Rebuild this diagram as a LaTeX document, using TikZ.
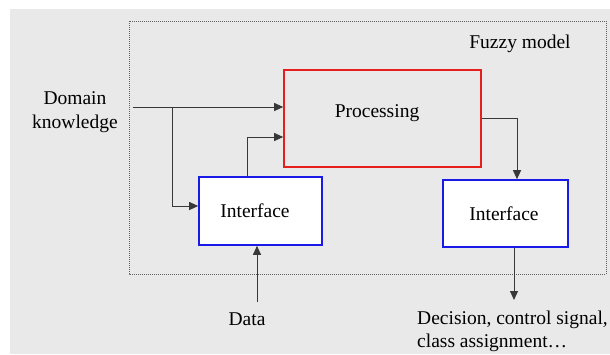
\documentclass[tikz,border=0pt]{standalone}
\usepackage{fontspec}
\setmainfont{Liberation Serif}
\usetikzlibrary{arrows.meta,calc}
\definecolor{bg}{HTML}{E9E9E9}
\definecolor{ln}{HTML}{383838}
\definecolor{bl}{HTML}{1A1AE6}
\definecolor{rd}{HTML}{E61E1E}
\tikzset{
  txt/.style={font=\fontsize{19.5}{23.5}\selectfont, text=black, inner sep=0pt},
  procbox/.style={draw=rd, line width=1.6pt, fill=bg, minimum width=197pt, minimum height=97pt, inner sep=0pt},
  ifbox/.style={draw=bl, line width=1.6pt, fill=white, minimum width=123pt, minimum height=68pt, inner sep=0pt,
    font=\fontsize{19.5}{23.5}\selectfont, text=black},
  conn/.style={draw=ln, line width=1pt, -{Triangle[length=9pt,width=8pt]}},
  plain/.style={draw=ln, line width=1pt}
}
\begin{document}
\begin{tikzpicture}[x=1pt,y=-1pt]
\useasboundingbox (0,0) rectangle (610,354);
\fill[white] (0,0) rectangle (610,354);
\fill[bg] (10,9) rectangle (610,354);
% frame
\draw[ln!80, line width=0.8pt, dash pattern=on 1pt off 1pt] (129,21) rectangle (606,274);
\node[txt] (fm) at (520,44) {Fuzzy model};
% boxes
\node[procbox] (proc) at (382.5,118.5) {};
\node[txt] (proclabel) at (377,113) {Processing};
\node[ifbox] (ifl) at (260.5,211) {\hspace*{-11pt}Interface};
\node[ifbox, minimum width=125pt, minimum height=67pt] (ifr) at (505.5,213.5) {\hspace*{-3pt}Interface};
% texts
\node[txt, align=center] (dk) at (75,112) {Domain\\knowledge};
\node[txt] (data) at (247,319) {Data};
\node[txt, align=left, anchor=west] (dec) at (417,331.5) {Decision, control signal,\\class assignment\ldots};
% connectors
\coordinate (dk0) at (133,107);
\coordinate (br) at (172,107);
\draw[conn] (dk0) -- (dk0 -| proc.west);
\draw[conn] (br) |- ([yshift=5pt]ifl.west);
\draw[conn] ([xshift=-13.5pt]ifl.north) |- ([yshift=-18.5pt]proc.west);
\draw[conn] (proc.east) -| ([xshift=11.5pt]ifr.north);
\coordinate (d0) at (257,302);
\draw[conn] (d0) -- (d0 |- ifl.south);
\coordinate (out) at (514,300);
\draw[conn] (out |- ifr.south) -- (out);
\end{tikzpicture}
\end{document}
